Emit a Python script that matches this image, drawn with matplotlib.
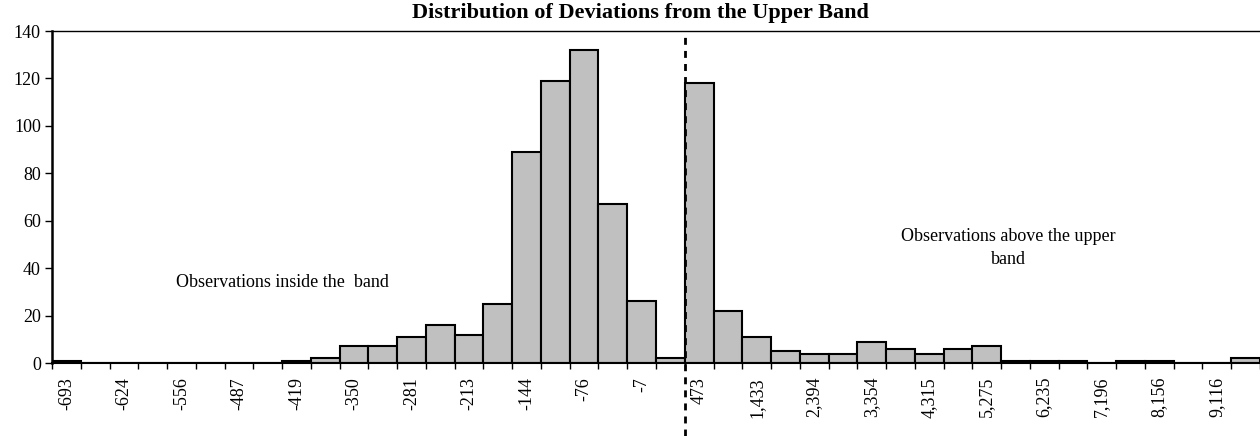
import numpy as np
import matplotlib.pyplot as plt

# frequency of deviations per bin (42 bins)
counts = [1, 0, 0, 0, 0, 0, 0, 0, 1, 2,
          7, 7, 11, 16, 12, 25, 89, 119, 132, 67,
          26, 2, 118, 22, 11, 5, 4, 4, 9, 6,
          4, 6, 7, 1, 1, 1, 0, 1, 1, 0,
          0, 2]
# labels shown under every other bin
tick_labels = ['-693', '-624', '-556', '-487', '-419', '-350', '-281', '-213',
               '-144', '-76', '-7', '473', '1,433', '2,394', '3,354', '4,315',
               '5,275', '6,235', '7,196', '8,156', '9,116']
band_edge = 21.5  # boundary between bin 21 and 22

plt.rcParams['font.family'] = ['Liberation Serif', 'DejaVu Serif']

fig = plt.figure(figsize=(12.6, 4.36), dpi=100)
ax = fig.add_axes([52 / 1260, 1 - 363 / 436, 1 - 52 / 1260, 332 / 436])

x = np.arange(len(counts))
ax.bar(x, counts, width=1.0, color='#c0c0c0', edgecolor='black', linewidth=1.5)

ax.set_xlim(-0.5, len(counts) - 0.5)
ax.set_ylim(0, 140)
ax.set_yticks(range(0, 141, 20))
ax.tick_params(axis='y', labelsize=13, length=5, width=1, pad=3)

ax.set_xticks(np.arange(len(counts) + 1) - 0.5)
ax.set_xticklabels([])
ax.tick_params(axis='x', which='major', length=4, width=1)
ax.set_xticks(np.arange(0, len(tick_labels) * 2, 2), labels=tick_labels, minor=True)
ax.tick_params(axis='x', which='minor', length=0, pad=10, labelsize=13, labelrotation=90)

ax.spines['left'].set_linewidth(1.8)
ax.spines['bottom'].set_linewidth(1.5)
ax.spines['top'].set_linewidth(1.0)
ax.spines['right'].set_visible(False)

# dashed marker for the upper band
ax.plot([band_edge, band_edge], [-0.22, 0.985], transform=ax.get_xaxis_transform(),
        clip_on=False, color='black', linestyle=(0, (2.5, 2.2)), linewidth=2.0)

ax.text(7.5, 34, 'Observations inside the  band', ha='center', va='center', fontsize=13)
ax.text(32.75, 48.5, 'Observations above the upper\nband', ha='center', va='center',
        fontsize=13, linespacing=1.4)

fig.text(640 / 1260, 1 - 13 / 436, 'Distribution of Deviations from the Upper Band',
         ha='center', va='center', fontsize=16, fontweight='bold')

fig.savefig('out.png', dpi=100)
